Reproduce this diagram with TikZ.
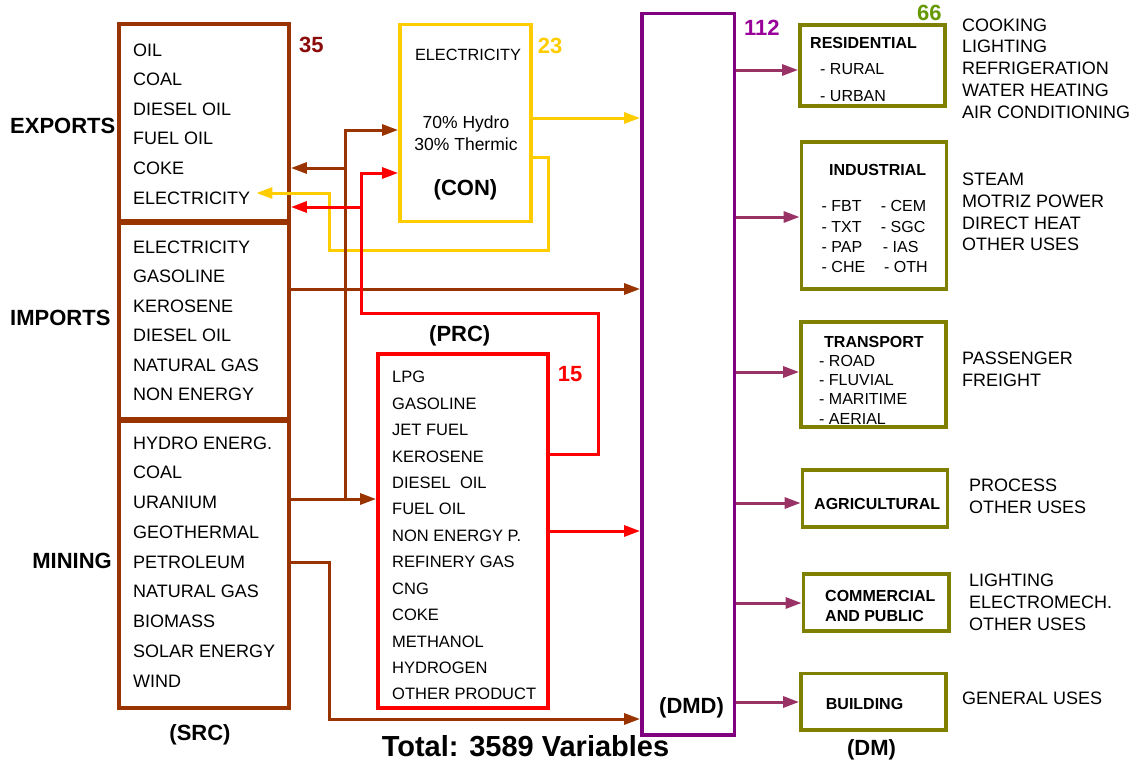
\documentclass[tikz,border=0pt]{standalone}
\usepackage{fontspec}
\setmainfont{Liberation Sans}
\usetikzlibrary{arrows.meta}
\definecolor{cbrown}{HTML}{993300}
\definecolor{cyel}{HTML}{FFCC00}
\definecolor{cred}{HTML}{FF0000}
\definecolor{cpurp}{HTML}{800080}
\definecolor{cpurpnum}{HTML}{990099}
\definecolor{colive}{HTML}{808000}
\definecolor{cgreen}{HTML}{669900}
\definecolor{cdred}{HTML}{8B0A0A}
\definecolor{cdem}{HTML}{993366}
\begin{document}
\begin{tikzpicture}[x=1pt,y=-1pt,
  box/.style={draw=#1, line width=3.8pt, rectangle, inner sep=0pt, fill=white},
  conn/.style={draw=#1, line width=3pt, line join=miter, -{Triangle[length=16pt,width=11pt]}},
  item/.style={font=\fontsize{18}{20}\selectfont, anchor=base west, inner sep=0pt},
  pitem/.style={font=\fontsize{16.5}{18}\selectfont, anchor=base west, inner sep=0pt},
  lbl/.style={font=\bfseries\fontsize{22}{24}\selectfont, inner sep=0pt},
  dlbl/.style={font=\bfseries\fontsize{16}{18}\selectfont, anchor=base west, inner sep=0pt},
  dsub/.style={font=\fontsize{16}{18}\selectfont, anchor=base west, inner sep=0pt},
  contxt/.style={font=\fontsize{17.5}{19}\selectfont, anchor=base, inner sep=0pt}]
\useasboundingbox (0,0) rectangle (1140,761);
\fill[white] (0,0) rectangle (1140,761);

% ---------- source boxes ----------
\node[box=cbrown, minimum width=170pt, minimum height=197pt] (exports) at (204,122.5) {};
\node[box=cbrown, minimum width=170pt, minimum height=196pt] (imports) at (204,321) {};
\node[box=cbrown, minimum width=170pt, minimum height=287pt] (mining) at (204,564.5) {};
\foreach \t [count=\i] in {OIL,COAL,DIESEL OIL,FUEL OIL,COKE,ELECTRICITY}
  \node[item] (ex\i) at (133,{56+29.6*(\i-1)}) {\t};
\foreach \t [count=\i] in {ELECTRICITY,GASOLINE,KEROSENE,DIESEL OIL,NATURAL GAS,NON ENERGY}
  \node[item] (im\i) at (133,{253.5+29.45*(\i-1)}) {\t};
\foreach \t [count=\i] in {HYDRO ENERG.,COAL,URANIUM,GEOTHERMAL,PETROLEUM,NATURAL GAS,BIOMASS,SOLAR ENERGY,WIND}
  \node[item] (mi\i) at (133,{449.2+29.75*(\i-1)}) {\t};
\node[lbl, anchor=base west] (lexp) at (10,133) {EXPORTS};
\node[lbl, anchor=base west] (limp) at (10,325.5) {IMPORTS};
\node[lbl, anchor=base east] (lmin) at (112,568) {MINING};
\node[lbl, anchor=base] (lsrc) at (200,740) {(SRC)};
\node[lbl, anchor=base west, text=cdred] (n35) at (299,52.3) {35};

% ---------- conversion ----------
\node[box=cyel, minimum width=131pt, minimum height=197pt] (con) at (465.5,123) {};
\node[font=\fontsize{16.3}{18}\selectfont, anchor=base, inner sep=0pt] (cel) at (468,60) {ELECTRICITY};
\node[contxt] (chy) at (466,128) {70\% Hydro};
\node[contxt] (cth) at (466,150) {30\% Thermic};
\node[lbl, anchor=base] (lcon) at (465.5,195.5) {(CON)};
\node[lbl, anchor=base west, text=cyel] (n23) at (537.7,53.3) {23};

% ---------- processing ----------
\node[box=cred, minimum width=170pt, minimum height=354pt] (prc) at (463,531) {};
\foreach \t [count=\i] in {LPG,GASOLINE,JET FUEL,KEROSENE,DIESEL\ \ OIL,FUEL OIL,NON ENERGY P.,REFINERY GAS,CNG,COKE,METHANOL,HYDROGEN,OTHER PRODUCT}
  \node[pitem] (pr\i) at (392,{382.7+26.44*(\i-1)}) {\t};
\node[lbl, anchor=base west] (lprc) at (429,341.7) {(PRC)};
\node[lbl, anchor=base west, text=cred] (n15) at (557.7,381.7) {15};

% ---------- demand ----------
\node[draw=cpurp, line width=3.8pt, inner sep=0pt, minimum width=92.5pt, minimum height=721.5pt] (dmd) at (688.25,374.25) {};
\node[lbl, anchor=base west] (ldmd) at (659,713) {(DMD)};
\node[lbl, anchor=base west, text=cpurpnum] (n112) at (744,35) {112};

% ---------- demand sectors ----------
\node[box=colive, minimum width=145pt, minimum height=81pt] (res) at (872.5,65.5) {};
\node[box=colive, minimum width=145pt, minimum height=147pt] (ind) at (874,215.5) {};
\node[box=colive, minimum width=145pt, minimum height=105pt] (tra) at (873.5,374.5) {};
\node[box=colive, minimum width=145pt, minimum height=57pt] (agr) at (875,498.5) {};
\node[box=colive, minimum width=145.5pt, minimum height=57pt] (com) at (876.25,602.5) {};
\node[box=colive, minimum width=145pt, minimum height=56.5pt] (bld) at (873.5,701.75) {};
\node[lbl, anchor=base west, text=cgreen] (n66) at (917,20) {66};

\node[dlbl] (tres) at (810,48) {RESIDENTIAL};
\node[dsub] (tres1) at (820,74) {- RURAL};
\node[dsub] (tres2) at (820,101) {- URBAN};
\node[dlbl] (tind) at (829,175) {INDUSTRIAL};
\node[dsub] (ti1) at (821.5,211.7) {- FBT};
\node[dsub] (ti2) at (821.5,232.7) {- TXT};
\node[dsub] (ti3) at (821.5,252.7) {- PAP};
\node[dsub] (ti4) at (821.5,272.7) {- CHE};
\node[dsub] (ti5) at (880.7,211.7) {- CEM};
\node[dsub] (ti6) at (880.7,232.7) {- SGC};
\node[dsub] (ti7) at (882.7,252.7) {- IAS};
\node[dsub] (ti8) at (884,272.7) {- OTH};
\node[dlbl] (ttra) at (824,347.3) {TRANSPORT};
\node[dsub] (tt1) at (819,366) {- ROAD};
\node[dsub] (tt2) at (819,385) {- FLUVIAL};
\node[dsub] (tt3) at (819,404) {- MARITIME};
\node[dsub] (tt4) at (819,424) {- AERIAL};
\node[dlbl] (tagr) at (814,509) {AGRICULTURAL};
\node[dlbl] (tcom1) at (825,601.7) {COMMERCIAL};
\node[dlbl] (tcom2) at (825,621.7) {AND PUBLIC};
\node[dlbl] (tbld) at (825.7,709.3) {BUILDING};
\node[lbl, anchor=base] (ldm) at (871.5,755.5) {(DM)};

% ---------- end uses ----------
\foreach \t [count=\i] in {COOKING,LIGHTING,REFRIGERATION,WATER HEATING,AIR CONDITIONING}
  \node[item] (ur\i) at (962,{31+21.8*(\i-1)}) {\t};
\foreach \t [count=\i] in {STEAM,MOTRIZ POWER,DIRECT HEAT,OTHER USES}
  \node[item] (ui\i) at (962,{185.7+21.7*(\i-1)}) {\t};
\foreach \t [count=\i] in {PASSENGER,FREIGHT}
  \node[item] (ut\i) at (962,{364+22*(\i-1)}) {\t};
\foreach \t [count=\i] in {PROCESS,OTHER USES}
  \node[item] (ua\i) at (969,{491.7+21.6*(\i-1)}) {\t};
\foreach \t [count=\i] in {LIGHTING,ELECTROMECH.,OTHER USES}
  \node[item] (uc\i) at (969,{586.7+22*(\i-1)}) {\t};
\node[item] (ub1) at (962,704) {GENERAL USES};

\node[font=\bfseries\fontsize{29}{31}\selectfont, anchor=base, inner sep=0pt] (total) at (525.5,756) {Total: 3589 Variables};

% ---------- junction coordinates ----------
\coordinate (by) at (0,289);
\coordinate (bj1) at (345,499);
\coordinate (bj2) at (345,130);
\coordinate (bj3) at (345,168);
\coordinate (bp1) at (329,562);
\coordinate (bp2) at (329,719);
\coordinate (rj1) at (598,454);
\coordinate (rj2) at (598,313);
\coordinate (rj3) at (361,313);
\coordinate (rj4) at (361,173);
\coordinate (rj5) at (361,207);
\coordinate (rp) at (0,531);
\coordinate (yc) at (0,118);
\coordinate (yl1) at (548,157);
\coordinate (yl2) at (548,250);
\coordinate (yl3) at (329,250);
\coordinate (yl4) at (329,193);
\coordinate (a1) at (0,70);
\coordinate (a2) at (0,217);
\coordinate (a3) at (0,372);
\coordinate (a4) at (0,503);
\coordinate (a5) at (0,603);
\coordinate (a6) at (0,702);

% ---------- connectors ----------
\draw[conn=cyel, shorten >=6pt] (con.east |- yl1) -- (yl1) -- (yl2) -- (yl3) -- (yl4) -- (yl4 -| ex6.east);
\draw[conn=cyel] (con.east |- yc) -- (dmd.west |- yc);
\draw[conn=cbrown] (imports.east |- by) -- (dmd.west |- by);
\draw[conn=cbrown] (mining.east |- bj1) -- (prc.west |- bj1);
\draw[conn=cbrown] (bj1) -- (bj2) -- (con.west |- bj2);
\draw[conn=cbrown] (bj3) -- (exports.east |- bj3);
\draw[conn=cbrown] (mining.east |- bp1) -- (bp1) -- (bp2) -- (dmd.west |- bp2);
\draw[conn=cred] (prc.east |- rj1) -- (rj1) -- (rj2) -- (rj3) -- (rj4) -- (con.west |- rj4);
\draw[conn=cred] (rj5) -- (exports.east |- rj5);
\draw[conn=cred] (prc.east |- rp) -- (dmd.west |- rp);
\draw[conn=cdem] (dmd.east |- a1) -- (res.west |- a1);
\draw[conn=cdem] (dmd.east |- a2) -- (ind.west |- a2);
\draw[conn=cdem] (dmd.east |- a3) -- (tra.west |- a3);
\draw[conn=cdem] (dmd.east |- a4) -- (agr.west |- a4);
\draw[conn=cdem] (dmd.east |- a5) -- (com.west |- a5);
\draw[conn=cdem] (dmd.east |- a6) -- (bld.west |- a6);
\end{tikzpicture}
\end{document}
